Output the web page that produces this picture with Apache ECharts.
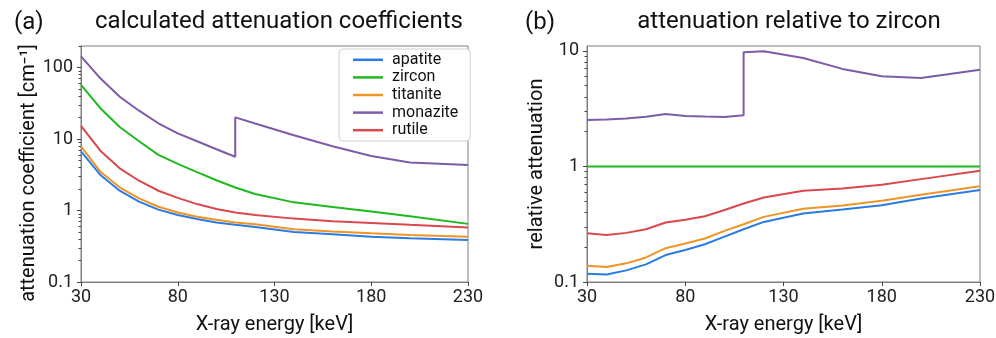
<!DOCTYPE html>
<html>
<head>
<meta charset="utf-8">
<script src="https://cdn.jsdelivr.net/npm/echarts@6/dist/echarts.min.js"></script>
<style>
  html, body { margin: 0; padding: 0; background: #fff; }
  #chart { width: 996px; height: 338px; }
</style>
</head>
<body>
<div id="chart"></div>
<script>
const minerals = ['apatite', 'zircon', 'titanite', 'monazite', 'rutile']
const colors = ['#2a7be4', '#1fb81f', '#ef9425', '#7d5ba6', '#d9484b']

// energies in keV; monazite has the Th K-edge drawn as a vertical step
const energy = [30, 40, 50, 60, 70, 80, 90, 100, 109.7, 120, 140, 160, 180, 200, 230]
const energyMonazite = [30, 40, 50, 60, 70, 80, 90, 100, 109.7, 109.7, 120, 140, 160, 180, 200, 230]

// (a) attenuation coefficients, cm^-1
const apatiteAtt = [6.7, 3.14, 1.89, 1.33, 1.03, 0.865, 0.76, 0.68, 0.63, 0.59, 0.5, 0.465, 0.43, 0.41, 0.386]
const zirconAtt = [57, 27, 14.7, 9.3, 6.0, 4.5, 3.45, 2.65, 2.1, 1.7, 1.3, 1.12, 0.97, 0.83, 0.65]
const titaniteAtt = [7.9, 3.49, 2.11, 1.48, 1.13, 0.94, 0.82, 0.74, 0.68, 0.64, 0.545, 0.51, 0.48, 0.455, 0.43]
const monaziteAtt = [143, 70.6, 39, 24.9, 16.6, 12, 9.3, 7.2, 5.65, 20.1, 16.5, 11.3, 7.9, 5.8, 4.7, 4.33]
const rutileAtt = [15.3, 6.86, 3.89, 2.61, 1.89, 1.5, 1.23, 1.05, 0.94, 0.865, 0.77, 0.71, 0.67, 0.63, 0.58]

// (b) attenuation relative to zircon
const apatiteRel = [0.118, 0.116, 0.126, 0.142, 0.171, 0.189, 0.212, 0.247, 0.286, 0.331, 0.392, 0.423, 0.462, 0.528, 0.624]
const zirconRel = [1, 1, 1, 1, 1, 1, 1, 1, 1, 1, 1, 1, 1, 1, 1]
const titaniteRel = [0.138, 0.135, 0.145, 0.163, 0.196, 0.215, 0.238, 0.277, 0.316, 0.366, 0.43, 0.459, 0.504, 0.568, 0.672]
const monaziteRel = [2.52, 2.55, 2.6, 2.69, 2.84, 2.73, 2.7, 2.68, 2.77, 9.73, 9.9, 8.67, 6.97, 6.03, 5.82, 6.84]
const rutileRel = [0.264, 0.255, 0.266, 0.286, 0.327, 0.345, 0.371, 0.42, 0.478, 0.538, 0.615, 0.645, 0.693, 0.776, 0.916]

const xTicks = [30, 80, 130, 180, 230]
const yTicksA = [0.1, 1, 10, 100]
const yTicksB = [0.1, 1, 10]
const yMinorA = [0.2, 0.3, 0.4, 0.5, 0.6, 0.7, 0.8, 0.9, 2, 3, 4, 5, 6, 7, 8, 9, 20, 30, 40, 50, 60, 70, 80, 90, 200]
const yMinorB = [0.2, 0.3, 0.4, 0.5, 0.6, 0.7, 0.8, 0.9, 2, 3, 4, 5, 6, 7, 8, 9]

const font = 'Roboto'
const frame = '#7f7f7f'
const pairs = (xs, ys) => xs.map((x, i) => [x, ys[i]])

const xAxis = (gridIndex) => ({
  type: 'value',
  gridIndex,
  min: 30,
  max: 230,
  name: 'X-ray energy [keV]',
  nameLocation: 'middle',
  nameGap: 33,
  nameTextStyle: { fontFamily: font, fontSize: 20, color: '#111' },
  axisLine: { show: true, lineStyle: { color: frame, width: 1 } },
  axisTick: { show: true, customValues: xTicks, length: 4, lineStyle: { color: '#444' } },
  axisLabel: { customValues: xTicks, fontFamily: font, fontSize: 18, color: '#222', margin: 6 },
  splitLine: { show: false },
})

const yAxis = (gridIndex, max, ticks, name, nameGap, namePad) => ({
  type: 'log',
  gridIndex,
  position: 'left',
  min: 0.1,
  max,
  name,
  nameLocation: 'middle',
  nameGap,
  nameTextStyle: { fontFamily: font, fontSize: 20, color: '#111', padding: namePad },
  axisLine: { show: true, lineStyle: { color: frame, width: 1 } },
  axisTick: { show: true, customValues: ticks, length: 4, lineStyle: { color: '#444' } },
  axisLabel: { customValues: ticks, fontFamily: font, fontSize: 18, color: '#222', margin: 8, formatter: (v) => String(v) },
  splitLine: { show: false },
})

const minorAxis = (gridIndex, max, ticks) => ({
  type: 'log',
  gridIndex,
  position: 'left',
  offset: 0,
  min: 0.1,
  max,
  axisLine: { show: false },
  axisTick: { show: true, customValues: ticks, length: 2.5, lineStyle: { color: '#444' } },
  axisLabel: { show: false },
  splitLine: { show: false },
})

const line = (name, color, xs, ys, xAxisIndex, yAxisIndex) => ({
  name,
  type: 'line',
  xAxisIndex,
  yAxisIndex,
  data: pairs(xs, ys),
  symbol: 'none',
  showSymbol: false,
  lineStyle: { color, width: 2 },
  itemStyle: { color },
  z: 3,
})

const chart = echarts.init(document.getElementById('chart'), null, { renderer: 'canvas' })
chart.setOption({
  animation: false,
  backgroundColor: '#fff',
  title: [
    { text: '(a)', left: 9, top: 6, textStyle: { fontFamily: font, fontSize: 24, fontWeight: 'normal', color: '#111' } },
    { text: 'calculated attenuation coefficients', left: 274, top: 5, textAlign: 'center', textStyle: { fontFamily: font, fontSize: 24, fontWeight: 'normal', color: '#111' } },
    { text: '(b)', left: 520, top: 6, textStyle: { fontFamily: font, fontSize: 24, fontWeight: 'normal', color: '#111' } },
    { text: 'attenuation relative to zircon', left: 784, top: 5, textAlign: 'center', textStyle: { fontFamily: font, fontSize: 24, fontWeight: 'normal', color: '#111' } },
  ],
  grid: [
    { left: 81, right: 528, top: 46, bottom: 56, outerBoundsMode: 'none', show: true, borderColor: frame, borderWidth: 1 },
    { left: 587, right: 16, top: 46, bottom: 56, outerBoundsMode: 'none', show: true, borderColor: frame, borderWidth: 1 },
  ],
  legend: {
    data: minerals,
    orient: 'vertical',
    left: 339,
    top: 49,
    icon: 'rect',
    itemWidth: 30,
    itemHeight: 2.5,
    itemGap: 0,
    padding: [2, 12, 2, 14],
    backgroundColor: '#fff',
    borderColor: '#d0d0d0',
    borderWidth: 1,
    borderRadius: 4,
    textStyle: { fontFamily: font, fontSize: 16, lineHeight: 17.6, color: '#111', padding: [0, 0, 0, 4] },
  },
  xAxis: [xAxis(0), xAxis(1)],
  yAxis: [
    yAxis(0, 200, yTicksA, 'attenuation coefficient [cm⁻¹]', 42, [0, 18, 0, 0]),
    yAxis(1, 11, yTicksB, 'relative attenuation', 40, 0),
    minorAxis(0, 200, yMinorA),
    minorAxis(1, 11, yMinorB),
  ],
  series: [
    line('apatite', colors[0], energy, apatiteAtt, 0, 0),
    line('zircon', colors[1], energy, zirconAtt, 0, 0),
    line('titanite', colors[2], energy, titaniteAtt, 0, 0),
    line('monazite', colors[3], energyMonazite, monaziteAtt, 0, 0),
    line('rutile', colors[4], energy, rutileAtt, 0, 0),
    line('apatite', colors[0], energy, apatiteRel, 1, 1),
    line('zircon', colors[1], energy, zirconRel, 1, 1),
    line('titanite', colors[2], energy, titaniteRel, 1, 1),
    line('monazite', colors[3], energyMonazite, monaziteRel, 1, 1),
    line('rutile', colors[4], energy, rutileRel, 1, 1),
  ],
})
</script>
</body>
</html>
